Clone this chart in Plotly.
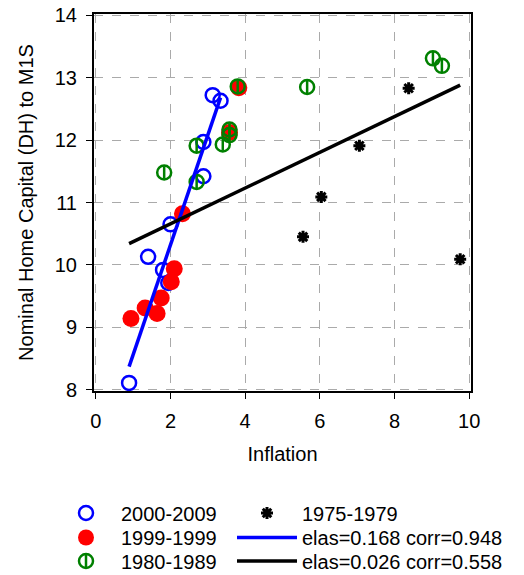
import plotly.graph_objects as go

# 2000-2009 (blue open circles)
blue_x = [0.89, 1.40, 2.00, 1.80, 1.94, 3.13, 3.34, 2.88, 2.88]
blue_y = [8.11, 10.13, 10.65, 9.92, 9.71, 12.72, 12.63, 11.97, 11.42]
# 1999-1999 (red filled circles)
red_x = [2.32, 0.94, 1.32, 1.64, 1.75, 2.02, 2.10, 3.83, 3.58]
red_y = [10.82, 9.14, 9.31, 9.22, 9.47, 9.73, 9.94, 12.84, 12.12]
# 1980-1989 (green circles with bar)
green_x = [1.83, 2.70, 2.70, 3.40, 3.58, 3.58, 3.80, 5.66, 9.03, 9.27]
green_y = [11.48, 11.91, 11.33, 11.93, 12.17, 12.08, 12.86, 12.85, 13.31, 13.19]
# 1975-1979 (black stars)
star_x = [8.38, 7.06, 6.04, 5.55, 9.76]
star_y = [12.83, 11.91, 11.09, 10.45, 10.09]
# fitted lines
fit_blue_x = [0.89, 3.34]
fit_blue_y = [8.37, 12.68]
fit_black_x = [0.89, 9.76]
fit_black_y = [10.34, 12.88]

labels = ["2000-2009", "1999-1999", "1980-1989", "1975-1979",
          "elas=0.168 corr=0.948", "elas=0.026 corr=0.558"]
x_ticks = [0, 2, 4, 6, 8, 10]
y_ticks = [8, 9, 10, 11, 12, 13, 14]

fig = go.Figure()
fig.add_trace(go.Scatter(x=star_x, y=star_y, mode="markers", name=labels[3], legend="legend4",
                         marker=dict(symbol="asterisk-open", size=10, color="black",
                                     line=dict(color="black", width=3))))
fig.add_trace(go.Scatter(x=blue_x, y=blue_y, mode="markers", name=labels[0], legend="legend",
                         marker=dict(symbol="circle-open", size=14, color="blue",
                                     line=dict(color="blue", width=2.5))))
fig.add_trace(go.Scatter(x=red_x, y=red_y, mode="markers", name=labels[1], legend="legend2",
                         marker=dict(symbol="circle", size=17, color="red",
                                     line=dict(width=0))))
fig.add_trace(go.Scatter(x=green_x, y=green_y, mode="markers", name=labels[2], legend="legend3",
                         marker=dict(symbol="circle-open", size=14, color="green",
                                     line=dict(color="green", width=2.5))))
fig.add_trace(go.Scatter(x=green_x, y=green_y, mode="markers", name=" ", legend="legend7",
                         marker=dict(symbol="line-ns-open", size=9, color="green",
                                     line=dict(color="green", width=2.5))))
fig.add_trace(go.Scatter(x=fit_blue_x, y=fit_blue_y, mode="lines", name=labels[4], legend="legend5",
                         line=dict(color="blue", width=3.5)))
fig.add_trace(go.Scatter(x=fit_black_x, y=fit_black_y, mode="lines", name=labels[5], legend="legend6",
                         line=dict(color="black", width=3.5)))

axis_common = dict(showline=True, linecolor="black", linewidth=2, mirror=True,
                   ticks="outside", ticklen=6, tickcolor="black", tickwidth=1,
                   ticklabelstandoff=5, ticklabeloverflow="allow",
                   showgrid=True, gridcolor="#aaaaaa", gridwidth=1.3, griddash="dash",
                   zeroline=False, automargin=False, tickfont=dict(size=20, color="black"))

fig.update_xaxes(range=[-0.05, 10.05], tickvals=x_ticks,
                 title=dict(text="Inflation", font=dict(size=20, color="black"), standoff=16),
                 **axis_common)
fig.update_yaxes(range=[7.98, 14.02], tickvals=y_ticks,
                 title=dict(text="Nominal Home Capital (DH) to M1S", font=dict(size=20, color="black"),
                            standoff=16),
                 **axis_common)

OFF = 8  # page body offset of the rendered figure
L, T, W, H = 94 - OFF, 14 - OFF, 377, 377


def px_x(p):
    return (p - OFF - L) / W


def px_y(p):
    return (T + H - (p - OFF)) / H


leg_common = dict(orientation="v", xref="paper", yref="paper", yanchor="middle",
                  xanchor="left", font=dict(size=20, color="black"), itemwidth=60,
                  bgcolor="rgba(0,0,0,0)", borderwidth=0)

col1, col2 = px_x(51), px_x(232)
r1, r2, r3 = px_y(513), px_y(537.5), px_y(561)

fig.update_layout(
    width=524, height=575,
    margin=dict(l=L, r=524 - L - W, t=T, b=575 - T - H, autoexpand=False),
    paper_bgcolor="white", plot_bgcolor="white",
    font=dict(family="Liberation Sans, Arial, sans-serif", color="black"),
    showlegend=True,
    legend=dict(x=col1, y=r1, **leg_common),
    legend2=dict(x=col1, y=r2, **leg_common),
    legend3=dict(x=col1, y=r3, **leg_common),
    legend4=dict(x=col2, y=r1, **leg_common),
    legend5=dict(x=col2, y=r2, **leg_common),
    legend6=dict(x=col2, y=r3, **leg_common),
    legend7=dict(x=col1, y=r3, **leg_common),
)

fig.write_html("out.html")
